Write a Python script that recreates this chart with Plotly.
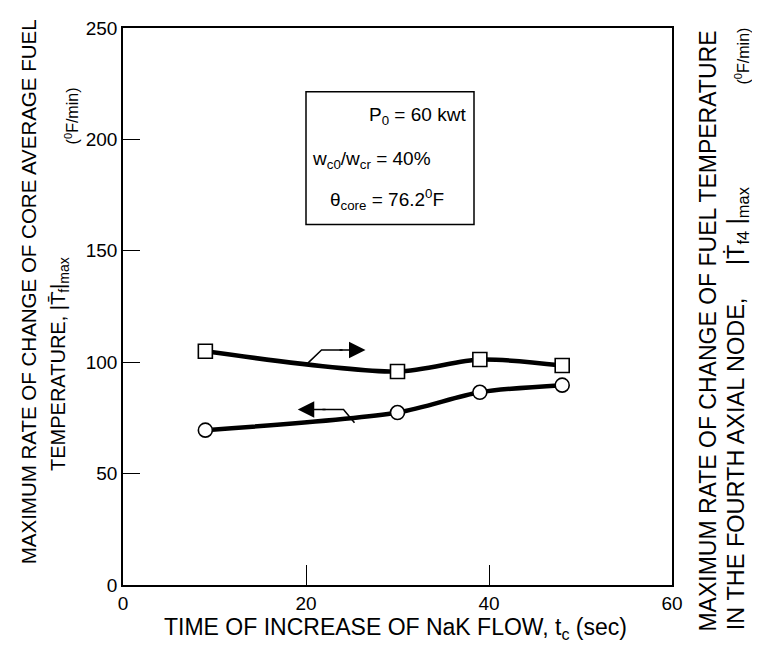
import plotly.graph_objects as go

# Data
t_c = [9, 30, 39, 48]                      # time of increase of NaK flow (sec)
node4_rate = [104.9, 95.8, 101.2, 98.5]     # |Tdot_f4|max (squares, right-hand label)
core_avg_rate = [69.5, 77.4, 86.5, 89.7]    # |Tbar dot_f|max (circles, left-hand label)
x_ticks = [0, 20, 40, 60]
y_ticks = [0, 50, 100, 150, 200, 250]

FONT = "Liberation Sans"

# The page body has an 8px margin; size the figure so the plot box lands where the reference has it.
W, H = 752, 645
ML, MR, MT, MB = 115, 88, 10, 68

fig = go.Figure()
fig.add_trace(go.Scatter(
    x=t_c, y=node4_rate, mode="lines+markers",
    line=dict(color="black", width=4.5, shape="spline", smoothing=0.8),
    marker=dict(symbol="square", size=14, color="white", line=dict(color="black", width=1.6)),
    showlegend=False, hoverinfo="skip"))
fig.add_trace(go.Scatter(
    x=t_c, y=core_avg_rate, mode="lines+markers",
    line=dict(color="black", width=4.5, shape="spline", smoothing=0.8),
    marker=dict(symbol="circle", size=14, color="white", line=dict(color="black", width=1.6)),
    showlegend=False, hoverinfo="skip"))

fig.update_layout(
    width=W, height=H,
    margin=dict(l=ML, r=MR, t=MT, b=MB),
    paper_bgcolor="white", plot_bgcolor="white",
    font=dict(family=FONT, size=18, color="black"),
    xaxis=dict(range=[0, 60], tickvals=x_ticks, ticks="inside", ticklen=20, tickwidth=1.3,
               tickcolor="black", showgrid=False, zeroline=False, showline=True,
               linecolor="black", linewidth=1.5, mirror=True,
               tickfont=dict(family=FONT, size=19)),
    yaxis=dict(range=[0, 250], tickvals=y_ticks, ticks="inside", ticklen=17, tickwidth=1.3,
               tickcolor="black", showgrid=False, zeroline=False, showline=True,
               linecolor="black", linewidth=1.5, mirror=True,
               tickfont=dict(family=FONT, size=19)),
)


def px_x(px):
    """page pixel -> paper x"""
    return (px - 8 - ML) / (W - ML - MR)


def px_y(py):
    """page pixel -> paper y"""
    return (H - MB - (py - 8)) / (H - MT - MB)


NB = "\u00a0"
units = "(<sup>0</sup>F/min)"
titles = [
    (395, 629, 0, 23, "TIME OF INCREASE OF NaK FLOW, t<sub>c</sub> (sec)"),
    (28, 287, -90, 20.5, "MAXIMUM RATE OF CHANGE OF CORE AVERAGE FUEL"),
    (60, 360, -90, 20,
     "TEMPERATURE, |T\u0304\u0307<sub>f</sub>|<sub>max</sub>"),
    (72, 108, -90, 16, units),
    (708, 327, -90, 23, "MAXIMUM RATE OF CHANGE OF FUEL TEMPERATURE"),
    (737, 405, -90, 23.5,
     "IN THE FOURTH AXIAL NODE," + NB * 5 + "|\u1E6A<sub>f4</sub>" + NB + "|<sub>max</sub>"),
    (743, 47, -90, 16, units),
]
for x, y, ang, sz, txt in titles:
    fig.add_annotation(x=px_x(x), y=px_y(y), xref="paper", yref="paper", text=txt,
                       textangle=ang, showarrow=False, xanchor="center", yanchor="middle",
                       font=dict(family=FONT, size=sz, color="black"))

# Parameter box
fig.add_shape(type="rect", xref="paper", yref="paper",
              x0=px_x(306), x1=px_x(474), y0=px_y(218), y1=px_y(83),
              line=dict(color="black", width=1.5), fillcolor="white", layer="above")
box_lines = [
    (px_x(468), px_y(108), "right", "P<sub>0</sub> = 60 kwt"),
    (px_x(310), px_y(152), "left", "w<sub>c0</sub>/w<sub>cr</sub> = 40%"),
    (px_x(328), px_y(193), "left", "\u03b8<sub>core</sub> = 76.2<sup>0</sup>F"),
]
for x, y, anchor, txt in box_lines:
    fig.add_annotation(x=x, y=y, xref="paper", yref="paper", text=txt, showarrow=False,
                       xanchor=anchor, yanchor="middle",
                       font=dict(family=FONT, size=19, color="black"))

# Leader arrows pointing toward the relevant axis label
fig.add_shape(type="path", xref="x", yref="y",
              path="M 20.2 99.6 L 21.7 105.5 L 24.0 105.5",
              line=dict(color="black", width=1.5))
fig.add_annotation(x=26.5, y=105.5, ax=23.5, ay=105.5, xref="x", yref="y", axref="x", ayref="y",
                   text="", showarrow=True, arrowhead=2, arrowsize=2.2, arrowwidth=1.5,
                   arrowcolor="black")
fig.add_shape(type="path", xref="x", yref="y",
              path="M 25.3 72.8 L 24.1 78.8 L 21.8 78.8",
              line=dict(color="black", width=1.5))
fig.add_annotation(x=19.1, y=78.8, ax=22.3, ay=78.8, xref="x", yref="y", axref="x", ayref="y",
                   text="", showarrow=True, arrowhead=2, arrowsize=2.2, arrowwidth=1.5,
                   arrowcolor="black")

fig.write_html("out.html")
